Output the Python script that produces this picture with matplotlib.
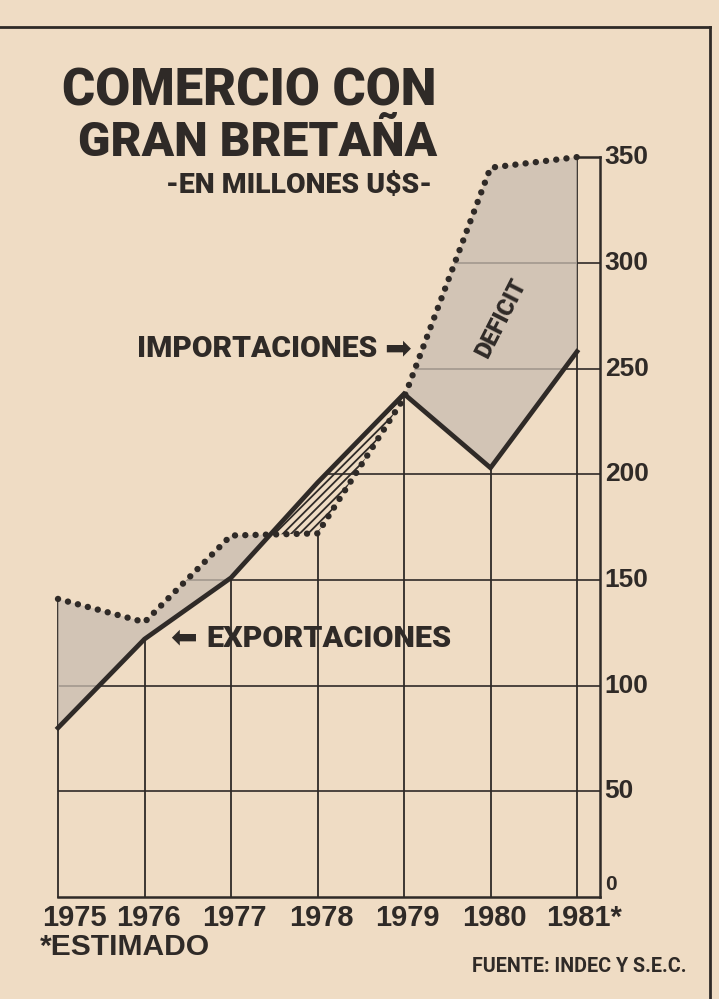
import numpy as np
import matplotlib.pyplot as plt

# =========================
# datos (millones de US$)
# =========================
years = [1975, 1976, 1977, 1978, 1979, 1980, 1981]
year_labels = ["1975", "1976", "1977", "1978", "1979", "1980", "1981*"]
importaciones = [141, 130, 171, 172, 236, 345, 350]
exportaciones = [80, 122, 151, 196, 238, 203, 258]
y_ticks = [0, 50, 100, 150, 200, 250, 300, 350]

# =========================
# estilo
# =========================
PAPER = "#efdcc4"
INK = "#2f2a27"
SHADE = "#c9bdb1"
HEAVY = ["Roboto", "Liberation Sans", "DejaVu Sans"]
WIDE = ["Liberation Sans", "DejaVu Sans"]
plt.rcParams["hatch.linewidth"] = 1.3

W, H = 719, 999
fig = plt.figure(figsize=(W / 100, H / 100), dpi=100, facecolor=PAPER)

# escala en pixeles de la figura
x0_px, px_year = 58, 86.5
y0_px, px_unit = 897, 2.114
ax = fig.add_axes([0, 0, 1, 1])
ax.set_xlim(1975 - x0_px / px_year, 1975 + (W - x0_px) / px_year)
ax.set_ylim(-(H - y0_px) / px_unit, y0_px / px_unit)
ax.set_facecolor(PAPER)
ax.axis("off")

def px(x, y):
    return x / W, 1 - y / H

def fit_width(t, width):
    # ajusta el tamaño de letra al ancho medido en la referencia
    r = fig.canvas.get_renderer()
    w = t.get_window_extent(r).width
    t.set_fontsize(t.get_fontsize() * width / w)

yrs = np.array(years, dtype=float)
imp = np.array(importaciones, dtype=float)
exp_ = np.array(exportaciones, dtype=float)
x_axis = 1981.27
top = max(y_ticks)

# envolvente superior para recortar la grilla
xs = np.linspace(yrs[0], yrs[-1], 601)
upper = np.maximum(np.interp(xs, yrs, imp), np.interp(xs, yrs, exp_))
poly_x = np.concatenate([[yrs[0]], xs, [x_axis, x_axis]])
poly_y = np.concatenate([[0], upper, [top, 0]])
clip = plt.Polygon(np.column_stack([poly_x, poly_y]), closed=True,
                   facecolor="none", edgecolor="none", transform=ax.transData)
ax.add_patch(clip)

# grilla horizontal
for v in y_ticks[1:-1]:
    ln, = ax.plot([yrs[0], x_axis], [v, v], color=INK, lw=1.2, zorder=1)
    ln.set_clip_path(clip)

# grilla vertical
for i, yr in enumerate(yrs):
    if i == 0 or i == len(yrs) - 1:
        h = max(imp[i], exp_[i])
    else:
        h = min(imp[i], exp_[i])
    ax.plot([yr, yr], [0, h], color=INK, lw=1.3, zorder=1)

# marco del eje
ax.plot([yrs[0], x_axis], [0, 0], color=INK, lw=1.8, zorder=3)
ax.plot([x_axis, x_axis], [0, top], color=INK, lw=1.8, zorder=3)
ax.plot([yrs[-1], x_axis], [top, top], color=INK, lw=1.8, zorder=3)

# areas
ax.fill_between(yrs, imp, exp_, where=imp >= exp_, interpolate=True,
                facecolor=SHADE, alpha=0.75, linewidth=0, zorder=2)
ax.fill_between(yrs, imp, exp_, where=exp_ > imp, interpolate=True,
                facecolor="none", edgecolor=INK, hatch="////", linewidth=0, zorder=2)

# series
ax.plot(yrs, exp_, color=INK, lw=3.4, solid_joinstyle="miter", zorder=4)
ax.plot(yrs, imp, color=INK, lw=4.6, linestyle=(0, (0.01, 1.6)),
        dash_capstyle="round", zorder=4)

# etiquetas eje y
for v in y_ticks:
    ax.text(x_axis + 0.05, v + (6 if v == 0 else 0), str(v), ha="left", va="center",
            fontsize=19 if v else 15, fontweight="bold", family=WIDE, color=INK)

# etiquetas eje x
for yr, lab in zip(years, year_labels):
    if lab.endswith("*"):
        ax.text(yr - 0.36, -10, lab, ha="left", va="center", fontsize=21,
                fontweight="bold", family=WIDE, color=INK)
    else:
        off = 0.19 if yr == years[0] else 0.04
        ax.text(yr + off, -10, lab, ha="center", va="center", fontsize=21,
                fontweight="bold", family=WIDE, color=INK)

# rotulos internos
t_imp = ax.text(1975.91, 259, "IMPORTACIONES", ha="left", va="center", fontsize=20,
                fontweight="black", family=HEAVY, color=INK)
ax.text(1978.93, 259, "\u27a1", ha="center", va="center", fontsize=23,
        family="DejaVu Sans", color=INK)
t_exp = ax.text(1976.72, 122, "EXPORTACIONES", ha="left", va="center", fontsize=20,
                fontweight="black", family=HEAVY, color=INK)
ax.text(1976.45, 122, "\u2b05", ha="center", va="center", fontsize=23,
        family="DejaVu Sans", color=INK)
ax.text(1980.13, 274, "DEFICIT", ha="center", va="center", rotation=63,
        fontsize=17, fontweight="black", family=HEAVY, color=INK, zorder=5)

# titulos
t1 = fig.text(*px(62, 105), "COMERCIO CON", ha="left", va="baseline", fontsize=36,
              fontweight="black", family=HEAVY, color=INK)
t2 = fig.text(*px(78, 156), "GRAN BRETAÑA", ha="left", va="baseline", fontsize=36,
              fontweight="black", family=HEAVY, color=INK)
t3 = fig.text(*px(432, 193), "-EN MILLONES U$S-", ha="right", va="baseline", fontsize=20,
              fontweight="black", family=HEAVY, color=INK)
t4 = fig.text(*px(40, 947), "*ESTIMADO", ha="left", va="center", fontsize=21,
              fontweight="bold", family=WIDE, color=INK)
t5 = fig.text(*px(687, 967), "FUENTE: INDEC Y S.E.C.", ha="right", va="center", fontsize=15,
              fontweight="bold", family=HEAVY, color=INK)

for t, w in [(t1, 375), (t2, 359), (t3, 266), (t4, 170), (t5, 215), (t_imp, 241), (t_exp, 245)]:
    fit_width(t, w)

# recuadro de la nota
fig.add_artist(plt.Line2D([0, 710 / W], [1 - 27 / H, 1 - 27 / H], color=INK, lw=2))
fig.add_artist(plt.Line2D([710 / W, 710 / W], [1 - 27 / H, 0], color=INK, lw=2))

fig.savefig("out.png", dpi=100, facecolor=PAPER)
